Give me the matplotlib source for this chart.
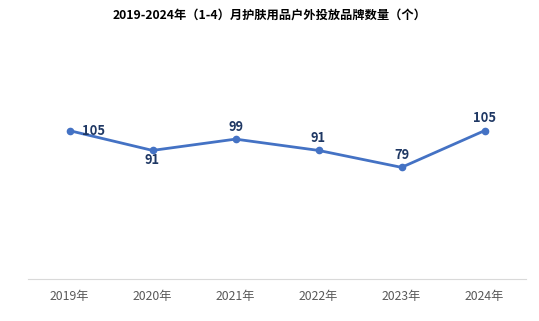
import matplotlib
matplotlib.use('Agg')
import matplotlib.pyplot as plt

plt.rcParams['font.family'] = ['Noto Sans CJK SC', 'DejaVu Sans']

years = ['2019年', '2020年', '2021年', '2022年', '2023年', '2024年']
brands = [105, 91, 99, 91, 79, 105]
# смещения подписей (в пунктах)
label_offsets = [(17, 0), (0, -7), (0, 9), (0, 9), (0, 9), (0, 9)]

fig = plt.figure(figsize=(5.39, 3.21), dpi=100)
ax = fig.add_axes([0.052, 0.131, 0.924, 0.66])

x = list(range(len(years)))
ax.plot(x, brands, color='#4472C4', linewidth=2, marker='o', markersize=4.5)

for xi, v, (dx, dy) in zip(x, brands, label_offsets):
    ax.annotate(str(v), (xi, v), xytext=(dx, dy), textcoords='offset points',
                ha='center', va='center', fontsize=9.3, fontweight='bold', color='#1F3864')

ax.set_xlim(-0.5, len(years) - 0.5)
ax.set_ylim(0, 150)
ax.set_xticks(x)
ax.set_xticklabels(years, fontsize=8.8, color='#595959')
ax.set_yticks([])
ax.tick_params(axis='x', length=0, pad=8)
for s in ['top', 'right', 'left']:
    ax.spines[s].set_visible(False)
ax.spines['bottom'].set_color('#D9D9D9')

fig.text(0.5, 0.953, '2019-2024年（1-4）月护肤用品户外投放品牌数量（个）',
         ha='center', va='center', fontsize=8.8, fontweight='bold', color='#000000')

plt.savefig('out.png', dpi=100)
